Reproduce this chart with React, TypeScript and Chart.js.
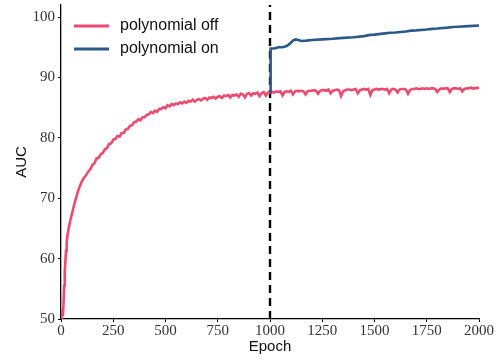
import React, { useEffect, useRef } from "react";
import { Chart, registerables } from "chart.js";

Chart.register(...registerables);

const RED = "#ee4a70";
const BLUE = "#2c5a88";

const seriesNames = ["polynomial off", "polynomial on"];
const xTicks = [0, 250, 500, 750, 1000, 1250, 1500, 1750, 2000];
const yTicks = [50, 60, 70, 80, 90, 100];

const redEpochs = [
  0, 3, 6, 9, 12, 15, 18, 21, 24, 27, 30, 35, 40, 45, 50, 55, 60, 65, 70, 75, 80, 85, 90, 95,
  100, 110, 120, 130, 140, 150, 160, 170, 180, 190, 200, 210, 220, 230, 240, 250, 260, 270, 280, 290,
  300, 310, 320, 330, 340, 350, 360, 370, 380, 390, 400, 410, 420, 430, 440, 450, 460, 470, 480, 490,
  500, 510, 520, 530, 540, 550, 560, 570, 580, 590, 600, 610, 620, 630, 640, 650, 660, 670, 680, 690,
  700, 710, 720, 730, 740, 750, 760, 770, 780, 790, 800, 810, 820, 830, 840, 850, 860, 870, 880, 890,
  900, 910, 920, 930, 940, 950, 960, 970, 980, 990, 1000, 1010, 1020, 1030, 1040, 1050, 1060, 1070,
  1080, 1090, 1100, 1110, 1120, 1130, 1140, 1150, 1160, 1170, 1180, 1190, 1200, 1210, 1220, 1230,
  1240, 1250, 1260, 1270, 1280, 1290, 1300, 1310, 1320, 1330, 1340, 1350, 1360, 1370, 1380, 1390,
  1400, 1410, 1420, 1430, 1440, 1450, 1460, 1470, 1480, 1490, 1500, 1510, 1520, 1530, 1540, 1550,
  1560, 1570, 1580, 1590, 1600, 1610, 1620, 1630, 1640, 1650, 1660, 1670, 1680, 1690, 1700, 1710,
  1720, 1730, 1740, 1750, 1760, 1770, 1780, 1790, 1800, 1810, 1820, 1830, 1840, 1850, 1860, 1870,
  1880, 1890, 1900, 1910, 1920, 1930, 1940, 1950, 1960, 1970, 1980, 1990, 2000,
];

const redAUC = [
  50.2, 50.3, 51.6, 50.4, 52.5, 55.5, 57.8, 59.6, 61.3, 62.6, 63.6, 64.7, 65.6, 66.4, 67.1, 67.8, 68.5, 69.2, 69.8, 70.4, 71.0, 71.5, 72.0, 72.4,
  72.8, 73.4, 73.8, 74.4, 74.8, 75.5, 75.8, 76.6, 76.7, 77.3, 77.5, 78.1, 78.3, 79.0, 79.1, 79.7, 79.8, 80.3, 80.2, 80.8,
  80.8, 81.4, 81.5, 82.0, 82.1, 82.6, 82.7, 83.1, 82.9, 83.4, 83.4, 83.8, 83.9, 84.3, 84.1, 84.5, 84.3, 84.8, 84.8, 85.1,
  84.9, 85.4, 85.2, 85.6, 85.4, 85.7, 85.6, 85.9, 85.7, 86.0, 85.8, 86.1, 86.0, 86.3, 86.0, 86.3, 86.4, 86.2, 86.5, 86.6,
  86.3, 86.7, 86.6, 86.8, 86.5, 86.8, 86.9, 86.6, 87.0, 86.9, 87.1, 86.7, 87.1, 87.0, 87.2, 86.8, 87.3, 87.2, 86.7, 87.3,
  87.4, 87.0, 87.4, 87.3, 87.5, 86.9, 87.4, 87.6, 87.0, 87.5, 87.5, 87.6, 87.5, 87.7, 87.6, 87.7, 87.0, 87.6,
  87.7, 87.6, 87.8, 87.2, 87.7, 87.8, 87.7, 87.8, 87.7, 87.2, 87.7, 87.8, 87.8, 87.9, 87.8, 87.3,
  87.8, 87.9, 87.9, 87.8, 88.0, 87.4, 87.8, 87.9, 88.0, 87.9, 86.9, 87.7, 87.9, 88.0, 88.0, 87.9,
  88.0, 88.1, 87.4, 87.9, 88.0, 88.1, 88.0, 88.1, 87.1, 87.9, 88.0, 88.1, 88.0, 88.1, 88.1, 88.0,
  88.1, 87.4, 88.0, 88.1, 88.0, 87.5, 88.0, 88.1, 88.1, 88.0, 87.3, 87.9, 88.1, 88.1, 88.2, 88.1,
  88.1, 88.2, 88.1, 88.2, 88.1, 88.2, 88.2, 88.1, 87.6, 88.0, 88.2, 88.1, 88.2, 88.2, 87.6, 88.1,
  88.2, 88.2, 88.1, 88.2, 87.7, 88.1, 88.2, 88.2, 88.3, 88.2, 88.2, 88.3, 88.2,
];

const blueEpochs = [
  1000, 1003, 1020, 1040, 1060, 1080, 1095, 1110, 1122, 1135, 1150, 1175, 1200, 1250, 1300, 1350,
  1400, 1450, 1480, 1500, 1550, 1575, 1600, 1650, 1675, 1700, 1750, 1775, 1800, 1850, 1875, 1900,
  1950, 2000,
];
const blueAUC = [
  87.5, 94.8, 94.8, 95.0, 95.0, 95.2, 95.6, 96.1, 96.3, 96.2, 96.05, 96.1, 96.2, 96.3, 96.4, 96.55,
  96.65, 96.85, 97.05, 97.1, 97.3, 97.4, 97.45, 97.6, 97.75, 97.8, 97.95, 98.05, 98.1, 98.25, 98.35, 98.4,
  98.5, 98.6,
];

const switchEpochs = [1000, 1000];
const switchAUC = [50, 102];

const zip = (xs: number[], ys: number[]) => xs.map((x, i) => ({ x, y: ys[i] }));

const legendPlugin = {
  id: "insideLegend",
  afterDraw(chart: any) {
    const { ctx, chartArea } = chart;
    const items = [
      { label: seriesNames[0], color: RED },
      { label: seriesNames[1], color: BLUE },
    ];
    ctx.save();
    ctx.font = '16px "Liberation Sans", Arial, sans-serif';
    ctx.textBaseline = "middle";
    ctx.textAlign = "left";
    items.forEach((it, i) => {
      const y = chartArea.top + 21 + i * 23;
      const x0 = chartArea.left + 13;
      ctx.strokeStyle = it.color;
      ctx.lineWidth = 2.8;
      ctx.beginPath();
      ctx.moveTo(x0, y);
      ctx.lineTo(x0 + 35, y);
      ctx.stroke();
      ctx.fillStyle = "#111";
      ctx.fillText(it.label, x0 + 46, y);
    });
    ctx.restore();
  },
};

const tickFont = { family: '"Liberation Serif", "Times New Roman", serif', size: 15 };
const titleFont = { family: '"Liberation Sans", Arial, sans-serif', size: 15 };
const plain = (v: any) => String(v);

export default function App() {
  const ref = useRef<HTMLCanvasElement | null>(null);
  useEffect(() => {
    if (!ref.current) return;
    const chart = new Chart(ref.current, {
      type: "line",
      data: {
        datasets: [
          {
            label: seriesNames[1],
            data: zip(blueEpochs, blueAUC),
            borderColor: BLUE,
            borderWidth: 2.6,
            pointRadius: 0,
            tension: 0,
          },
          {
            label: seriesNames[0],
            data: zip(redEpochs, redAUC),
            borderColor: RED,
            borderWidth: 2.6,
            pointRadius: 0,
            tension: 0,
          },
          {
            label: "switch",
            data: zip(switchEpochs, switchAUC),
            borderColor: "#000",
            borderWidth: 2.4,
            borderDash: [8, 5],
            pointRadius: 0,
          },
        ],
      },
      options: {
        animation: false,
        responsive: false,
        layout: { padding: { top: 5, right: 19, left: 0, bottom: 0 } },
        plugins: { legend: { display: false }, tooltip: { enabled: false } },
        scales: {
          x: {
            type: "linear",
            min: 0,
            max: 2000,
            afterBuildTicks: (s: any) => {
              s.ticks = xTicks.map((v) => ({ value: v }));
            },
            afterFit: (s: any) => {
              s.height = 41;
              s.paddingLeft = 0;
              s.paddingRight = 0;
            },
            ticks: { font: tickFont, color: "#333", padding: 0, maxRotation: 0, autoSkip: false, callback: plain },
            grid: { drawOnChartArea: false, drawTicks: true, tickLength: 3, color: "#000" },
            border: { display: true, color: "#000", width: 1.3 },
            title: { display: true, text: "Epoch", font: titleFont, color: "#111", padding: { top: 0, bottom: 4 } },
          },
          y: {
            type: "linear",
            min: 50,
            max: 102,
            afterBuildTicks: (s: any) => {
              s.ticks = yTicks.map((v) => ({ value: v }));
            },
            afterFit: (s: any) => {
              s.width = 61;
              s.paddingTop = 0;
              s.paddingBottom = 0;
            },
            ticks: { font: tickFont, color: "#333", padding: 3, autoSkip: false, callback: plain },
            grid: { drawOnChartArea: false, drawTicks: true, tickLength: 3, color: "#000" },
            border: { display: true, color: "#000", width: 1.3 },
            title: { display: true, text: "AUC", font: titleFont, color: "#111", padding: { top: 13, bottom: 0 } },
          },
        },
      },
      plugins: [legendPlugin],
    } as any);
    return () => chart.destroy();
  }, []);
  return (
    <div style={{ position: "absolute", left: 0, top: 0, width: 498, height: 360, background: "#fff" }}>
      <canvas ref={ref} width={498} height={360} />
    </div>
  );
}
